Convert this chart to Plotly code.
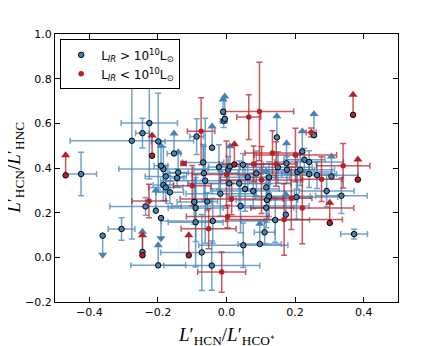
import plotly.graph_objects as go

# blue: L_IR > 1e10 Lsun, detections
blue_x = [-0.424, -0.306, -0.276, -0.245, -0.225, -0.199, -0.236, -0.184, -0.177, -0.184,
          -0.177, -0.165, -0.144, -0.087, -0.068, -0.066, -0.062, -0.056, -0.094, -0.090,
          -0.090, -0.040, -0.072, -0.043, -0.022, -0.008, -0.018, 0.005, 0.008, 0.037,
          0.054, 0.062, 0.041, 0.049, 0.087, 0.078, 0.048, 0.111, 0.118, 0.116,
          0.124, 0.124, 0.142, 0.150, 0.176, 0.204, 0.207, 0.215, 0.227, 0.241,
          0.241, 0.264, 0.292, 0.335, 0.372]
blue_y = [0.373, 0.127, 0.522, 0.556, 0.601, 0.519, 0.228, 0.395, 0.362, 0.324,
          0.313, 0.291, 0.355, 0.541, 0.425, 0.377, 0.343, 0.250, 0.248, 0.221,
          0.157, 0.163, 0.022, -0.037, 0.404, 0.611, 0.285, 0.392, 0.331, 0.331,
          0.306, 0.359, 0.230, 0.054, 0.376, 0.297, 0.415, 0.112, 0.257, 0.222,
          0.358, 0.273, 0.167, 0.403, 0.392, 0.270, 0.382, 0.392, 0.437, 0.427,
          0.373, 0.368, 0.297, 0.276, 0.104]
blue_xerr = [0.045, 0.039, 0.180, 0.020, 0.082, 0.020, 0.104, 0.130, 0.060, 0.030,
             0.050, 0.040, 0.020, 0.020, 0.060, 0.100, 0.130, 0.030, 0.050, 0.080,
             0.080, 0.150, 0.120, 0.140, 0.030, 0.010, 0.100, 0.100, 0.120, 0.150,
             0.100, 0.080, 0.200, 0.130, 0.100, 0.120, 0.060, 0.030, 0.090, 0.080,
             0.060, 0.120, 0.100, 0.100, 0.080, 0.120, 0.100, 0.100, 0.060, 0.100,
             0.080, 0.120, 0.080, 0.075, 0.039]
blue_yerr = [0.097, 0.050, 0.440, 0.067, 0.250, 0.216, 0.040, 0.100, 0.050, 0.070,
             0.060, 0.050, 0.040, 0.080, 0.080, 0.120, 0.280, 0.040, 0.100, 0.150,
             0.200, 0.100, 0.170, 0.110, 0.100, 0.030, 0.100, 0.060, 0.080, 0.100,
             0.100, 0.060, 0.120, 0.100, 0.100, 0.080, 0.050, 0.050, 0.100, 0.090,
             0.070, 0.090, 0.100, 0.070, 0.060, 0.100, 0.080, 0.070, 0.050, 0.050,
             0.060, 0.060, 0.070, 0.080, 0.022]

# blue limits (arrow length, +1 lower limit / -1 upper limit)
blue_lim_x = [-0.361, -0.191, -0.199, -0.245, -0.191, -0.153, -0.141, -0.206, -0.042, -0.010,
              -0.005, 0.010, 0.097, 0.116, 0.147, 0.175, 0.173, 0.221, 0.255, 0.306]
blue_lim_y = [0.097, 0.176, -0.036, 0.024, 0.410, 0.465, 0.380, 0.209, 0.491, 0.652,
              0.620, 0.407, 0.060, 0.313, 0.537, 0.421, 0.191, 0.474, 0.547, 0.362]
blue_lim_xerr = [0.0, 0.0, 0.080, 0.0, 0.020, 0.020, 0.030, 0.0, 0.0, 0.0,
                 0.0, 0.030, 0.063, 0.0, 0.0, 0.0, 0.0, 0.0, 0.0, 0.0]
blue_lim_len = [0.085, 0.090, 0.090, 0.090, 0.090, 0.090, 0.090, 0.090, 0.095, 0.055,
                0.100, 0.090, 0.090, 0.070, 0.095, 0.090, 0.090, 0.090, 0.095, 0.090]
blue_lim_dir = [-1, -1, 1, 1, 1, 1, 1, 1, 1, 1,
                1, 1, 1, 1, 1, 1, 1, 1, 1, 1]

# red: L_IR < 1e10 Lsun, detections
red_x = [-0.226, -0.125, -0.100, -0.074, -0.052, -0.014, 0.000, 0.003, 0.015, 0.065,
         0.096, 0.079, 0.102, 0.134, 0.145, 0.168, 0.189, 0.201, 0.221, 0.247,
         0.277, 0.340]
red_y = [0.252, 0.420, 0.321, 0.565, 0.128, -0.066, 0.371, 0.183, 0.261, 0.628,
         0.653, 0.418, 0.346, 0.467, 0.418, 0.169, 0.265, 0.458, 0.221, 0.559,
         0.350, 0.410]
red_xerr = [0.050, 0.008, 0.055, 0.040, 0.080, 0.070, 0.100, 0.120, 0.150, 0.035,
            0.100, 0.100, 0.120, 0.080, 0.060, 0.170, 0.060, 0.120, 0.150, 0.015,
            0.060, 0.078]
red_yerr = [0.075, 0.008, 0.090, 0.150, 0.090, 0.090, 0.150, 0.050, 0.070, 0.100,
            0.220, 0.080, 0.150, 0.100, 0.100, 0.160, 0.140, 0.120, 0.160, 0.020,
            0.100, 0.100]

# red limits
red_lim_x = [-0.469, -0.217, -0.245, -0.110, 0.023, 0.301, 0.369, 0.383]
red_lim_y = [0.367, 0.455, 0.009, 0.009, 0.416, 0.154, 0.638, 0.348]
red_lim_len = [0.090, 0.090, 0.090, 0.090, 0.090, 0.090, 0.090, 0.090]
red_lim_dir = [1, 1, 1, 1, 1, 1, 1, 1]

BLUE = "#4682b4"
BLUE_ERR = "rgba(70,130,180,0.75)"
RED = "#b82025"
RED_ERR = "rgba(184,32,37,0.75)"


def arrow_traces(xs, ys, lens, dirs, color, ecolor):
    sx, sy = [], []
    up_x, up_y, dn_x, dn_y = [], [], [], []
    for x, y, l, d in zip(xs, ys, lens, dirs):
        tip = y + d * l
        sx += [x, x, None]
        sy += [y, tip, None]
        if d > 0:
            up_x.append(x); up_y.append(tip)
        else:
            dn_x.append(x); dn_y.append(tip)
    out = [go.Scatter(x=sx, y=sy, mode="lines", line=dict(color=ecolor, width=1.5),
                      showlegend=False, hoverinfo="skip")]
    if up_x:
        out.append(go.Scatter(x=up_x, y=up_y, mode="markers", showlegend=False,
                              marker=dict(symbol="triangle-up", size=8, color=color, line_width=0)))
    if dn_x:
        out.append(go.Scatter(x=dn_x, y=dn_y, mode="markers", showlegend=False,
                              marker=dict(symbol="triangle-down", size=8, color=color, line_width=0)))
    return out


fig = go.Figure()

# error bars first (markers hidden), so the points sit on top
fig.add_trace(go.Scatter(x=blue_x, y=blue_y, mode="markers", marker=dict(opacity=0),
                         error_x=dict(type="data", array=blue_xerr, color=BLUE_ERR, thickness=1.5, width=3),
                         error_y=dict(type="data", array=blue_yerr, color=BLUE_ERR, thickness=1.5, width=3),
                         showlegend=False, hoverinfo="skip"))
fig.add_trace(go.Scatter(x=blue_lim_x, y=blue_lim_y, mode="markers", marker=dict(opacity=0),
                         error_x=dict(type="data", array=blue_lim_xerr, color=BLUE_ERR, thickness=1.5, width=3),
                         showlegend=False, hoverinfo="skip"))
fig.add_trace(go.Scatter(x=red_x, y=red_y, mode="markers", marker=dict(opacity=0),
                         error_x=dict(type="data", array=red_xerr, color=RED_ERR, thickness=1.5, width=3),
                         error_y=dict(type="data", array=red_yerr, color=RED_ERR, thickness=1.5, width=3),
                         showlegend=False, hoverinfo="skip"))

for t in arrow_traces(blue_lim_x, blue_lim_y, blue_lim_len, blue_lim_dir, BLUE, BLUE_ERR):
    fig.add_trace(t)
for t in arrow_traces(red_lim_x, red_lim_y, red_lim_len, red_lim_dir, RED, RED_ERR):
    fig.add_trace(t)

fig.add_trace(go.Scatter(x=blue_x + blue_lim_x, y=blue_y + blue_lim_y, mode="markers",
                         name="L<sub><i>IR</i></sub> > 10<sup>10</sup>L<sub>⊙</sub>",
                         marker=dict(size=5.5, color=BLUE, line=dict(color="black", width=1))))
fig.add_trace(go.Scatter(x=red_lim_x, y=red_lim_y, mode="markers", showlegend=False,
                         marker=dict(size=5.5, color=RED, line=dict(color="black", width=1))))
fig.add_trace(go.Scatter(x=red_x, y=red_y, mode="markers",
                         name="L<sub><i>IR</i></sub> < 10<sup>10</sup>L<sub>⊙</sub>",
                         marker=dict(size=5.5, color=RED, line_width=0)))

axis_common = dict(showgrid=False, zeroline=False, showline=True, linecolor="black", linewidth=1,
                   mirror="ticks", ticks="inside", ticklen=5, tickcolor="black", automargin=False,
                   tickfont=dict(family="DejaVu Sans", size=11, color="black"))

# page body has an 8px margin, so the figure is 8px smaller than the window
fig.update_layout(
    width=435, height=338,
    margin=dict(l=47, r=45, t=26, b=44),
    paper_bgcolor="white",
    plot_bgcolor="white",
    xaxis=dict(range=[-0.5, 0.5], tickvals=[-0.4, -0.2, 0.0, 0.2, 0.4],
               ticktext=["\u22120.4", "\u22120.2", "0.0", "0.2", "0.4"], **axis_common),
    yaxis=dict(range=[-0.2, 1.0], tickvals=[-0.2, 0.0, 0.2, 0.4, 0.6, 0.8, 1.0],
               ticktext=["\u22120.2", "0.0", "0.2", "0.4", "0.6", "0.8", "1.0"], **axis_common),
    legend=dict(x=0.015, y=0.98, xanchor="left", yanchor="top",
                bordercolor="black", borderwidth=1, bgcolor="white",
                font=dict(family="DejaVu Sans", size=12, color="black"),
                itemsizing="trace", tracegroupgap=4),
    annotations=[
        dict(text="<i>L</i>\u2032<sub>HCN</sub>/<i>L</i>\u2032<sub>HCO\u207a</sub>",
             xref="paper", yref="paper", x=0.5, y=-0.125, xanchor="center", yanchor="middle",
             showarrow=False, font=dict(family="Liberation Serif", size=19, color="black")),
        dict(text="<i>L</i>\u2032<sub>HCN</sub>/<i>L</i>\u2032<sub>HNC</sub>",
             xref="paper", yref="paper", x=-0.117, y=0.5, xanchor="center", yanchor="middle",
             textangle=-90, showarrow=False,
             font=dict(family="Liberation Serif", size=19, color="black")),
    ],
)

fig.write_html("out.html")
